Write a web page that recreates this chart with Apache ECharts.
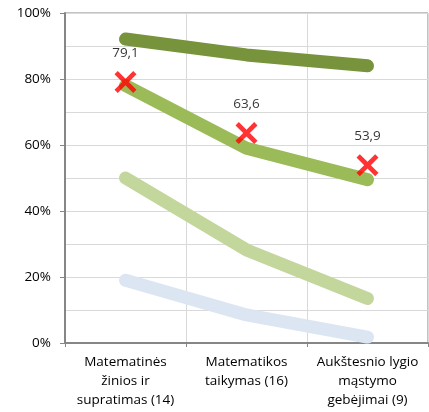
<!DOCTYPE html>
<html><head><meta charset="utf-8">
<script src="https://cdn.jsdelivr.net/npm/echarts@6/dist/echarts.min.js"></script>
<style>html,body{margin:0;padding:0;background:#fff}#c{width:429px;height:412px}</style>
</head><body><div id="c"></div>
<script>
const categories = ["Matematinės\nžinios ir\nsupratimas (14)", "Matematikos\ntaikymas (16)", "Aukštesnio lygio\nmąstymo\ngebėjimai (9)"];
const seriesDark = [92.1, 87.3, 84.0];
const seriesMedium = [78.0, 59.0, 49.5];
const seriesLight = [50.0, 28.2, 13.5];
const seriesBlue = [19.0, 8.5, 1.8];
const markerValues = [79.1, 63.6, 53.9];

const font = "'Open Sans', sans-serif";
const xPath = 'path://M3,0 L10,7 L17,0 L20,3 L13,10 L20,17 L17,20 L10,13 L3,20 L0,17 L7,10 L0,3 Z';
function lineS(data, color){
  return {type:'line', data:data, symbol:'none', smooth:false,
    lineStyle:{color:color, width:13, cap:'round', join:'round'}, z:2, silent:true};
}
const chart = echarts.init(document.getElementById('c'), null, {renderer:'canvas'});
chart.setOption({
  animation:false,
  grid:{left:65, right:1, top:13, bottom:69, show:true, borderColor:'#868686', borderWidth:1},
  xAxis:{type:'category', data:categories, boundaryGap:true,
    axisLine:{lineStyle:{color:'#868686', width:2}},
    axisTick:{show:true, length:4, lineStyle:{color:'#868686'}},
    splitLine:{show:true, lineStyle:{color:'#D9D9D9', width:1}},
    axisLabel:{color:'#000', fontSize:13.5, fontFamily:font, lineHeight:19, margin:10, interval:0}},
  yAxis:{type:'value', min:0, max:100, interval:20,
    axisLine:{show:true, lineStyle:{color:'#868686', width:2}},
    axisTick:{show:true, length:5, lineStyle:{color:'#868686'}},
    splitLine:{show:true, lineStyle:{color:'#D9D9D9', width:1}},
    minorTick:{show:false, splitNumber:2},
    minorSplitLine:{show:true, lineStyle:{color:'#D9D9D9', width:1}},
    axisLabel:{color:'#000', fontSize:13.5, fontFamily:font, margin:14, formatter:v=>v+'%'}},
  series:[
    lineS(seriesBlue, '#DCE6F2'),
    lineS(seriesLight, '#C3D69B'),
    lineS(seriesMedium, '#9BBB59'),
    lineS(seriesDark, '#77933C'),
    {type:'scatter', data:markerValues, symbol:xPath, symbolSize:22, z:5,
      itemStyle:{color:'#FF0000'},
      label:{show:true, position:'top', distance:11, color:'#000', fontSize:13.5, fontFamily:font,
        formatter:p=>p.value.toFixed(1).replace('.', ',')}}
  ]
});
</script></body></html>
